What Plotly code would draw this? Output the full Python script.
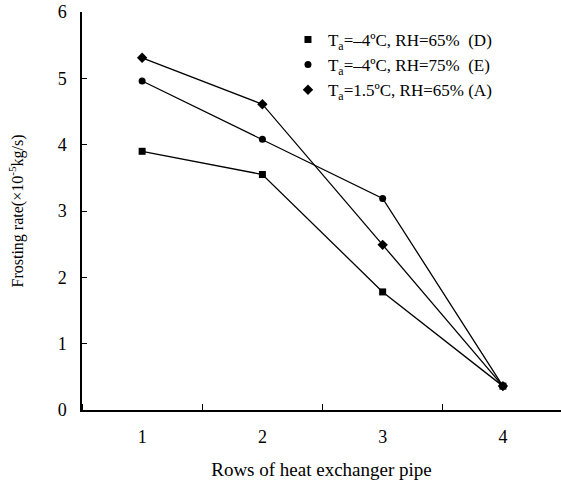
import plotly.graph_objects as go

# Rows of the heat exchanger pipe
rows = [1, 2, 3, 4]

# Frosting rate (x10^-5 kg/s) for each test condition
rate_D = [3.90, 3.55, 1.78, 0.36]
rate_E = [4.96, 4.08, 3.19, 0.36]
rate_A = [5.31, 4.61, 2.49, 0.36]

names = [
    "T<sub>a</sub>=\u20134\u00baC, RH=65%\u00a0\u00a0(D)",
    "T<sub>a</sub>=\u20134\u00baC, RH=75%\u00a0\u00a0(E)",
    "T<sub>a</sub>=1.5\u00baC, RH=65%\u00a0(A)",
]
series = [rate_D, rate_E, rate_A]
symbols = ["square", "circle", "diamond"]
sizes = [7, 7, 8]

FONT = "Liberation Serif"

fig = go.Figure()
for name, vals, sym, sz in zip(names, series, symbols, sizes):
    fig.add_trace(go.Scatter(
        x=rows, y=vals, mode="lines+markers", showlegend=False,
        line=dict(color="black", width=1.3),
        marker=dict(symbol=sym, size=sz, color="black"),
    ))
    # legend entry: marker only
    fig.add_trace(go.Scatter(
        x=[None], y=[None], mode="markers", name=name,
        marker=dict(symbol=sym, size=sz, color="black"),
    ))

fig.update_layout(
    width=561, height=482,
    margin=dict(l=82, r=0, t=12, b=72),
    paper_bgcolor="white", plot_bgcolor="white",
    font=dict(family=FONT, size=18, color="black"),
    legend=dict(x=0.43, y=0.975, xanchor="left", yanchor="top",
                font=dict(family=FONT, size=17), bgcolor="rgba(0,0,0,0)",
                tracegroupgap=0, itemwidth=30),
    xaxis=dict(
        range=[0.5, 4.483], tickvals=rows, ticktext=[str(r) for r in rows],
        ticks="", showline=True, linecolor="black", linewidth=1.5,
        showgrid=False, zeroline=False, ticklabelstandoff=10,
        minor=dict(tick0=0.5, dtick=1, ticks="inside", ticklen=6,
                   tickcolor="black", tickwidth=1),
        title=dict(text="Rows of heat exchanger pipe", standoff=16,
                   font=dict(family=FONT, size=19)),
        tickfont=dict(family=FONT, size=18),
    ),
    yaxis=dict(
        range=[0, 6], dtick=1, ticks="inside", ticklen=5, tickcolor="black",
        tickwidth=1, showline=True, linecolor="black", linewidth=1.5,
        showgrid=False, zeroline=False, ticklabelstandoff=10,
        title=dict(text="Frosting rate(\u00d710<sup>-5</sup>kg/s)", standoff=30,
                   font=dict(family=FONT, size=16)),
        tickfont=dict(family=FONT, size=18),
    ),
)

fig.write_html("out.html")
